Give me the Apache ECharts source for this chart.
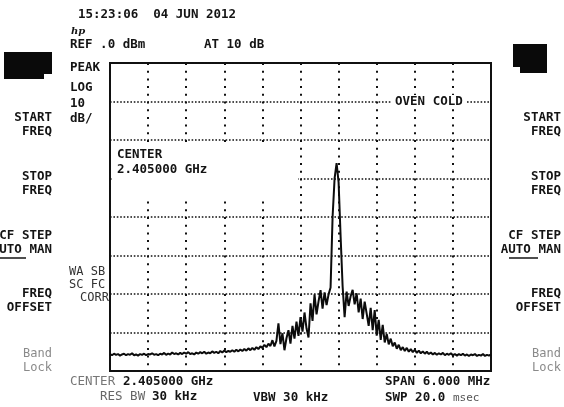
<!DOCTYPE html>
<html>
<head>
<meta charset="utf-8">
<script src="https://cdn.jsdelivr.net/npm/echarts@6/dist/echarts.min.js"></script>
<style>
  html, body { margin: 0; padding: 0; background: #fff; }
  #chart { width: 564px; height: 407px; }
</style>
</head>
<body>
<div id="chart"></div>
<script>
// analyzer settings (from the screen annotations)
const centerMHz = 2405.0;
const spanMHz = 6.0;
const refLevel = 0;      // dBm, top line
const dbPerDiv = 10;
const yDivs = 8;
const xDivs = 10;

// trace, dBm, equally spaced across the span
const traceDbm = [
  -75.6, -75.9, -75.5, -75.8, -75.6, -76.0, -75.7, -75.5, -75.9, -75.6,
  -75.8, -75.4, -75.9, -75.7, -76.0, -75.6, -75.8, -75.5, -75.9, -75.6,
  -75.7, -75.4, -75.8, -75.6, -75.9, -75.5, -75.7, -75.3, -75.8, -75.5,
  -75.7, -75.2, -75.6, -75.4, -75.7, -75.3, -75.6, -75.2, -75.5, -75.1,
  -75.6, -75.4, -75.7, -75.2, -75.5, -75.1, -75.4, -75.0, -75.5, -75.2,
  -75.4, -74.9, -75.3, -75.0, -75.4, -74.8, -75.2, -74.7, -75.1, -74.8,
  -75.0, -74.6, -75.0, -74.5, -74.9, -74.4, -74.8, -74.3, -74.7, -74.1,
  -74.6, -74.0, -74.5, -73.8, -74.3, -73.6, -74.0, -73.2, -73.8, -72.9,
  -73.5, -72.0, -73.6, -72.2, -67.6, -73.0, -70.2, -74.6, -71.5, -69.4,
  -72.9, -68.3, -71.6, -67.2, -70.9, -66.0, -69.8, -64.8, -68.9, -71.3,
  -62.4, -67.0, -60.1, -65.3, -61.9, -59.0, -63.8, -59.6, -62.9, -60.1,
  -58.3, -40.0, -30.0, -26.0, -31.0, -45.0, -58.0, -66.0, -59.4, -63.1,
  -60.6, -58.9, -62.7, -59.8, -64.8, -61.2, -66.5, -62.0, -65.1, -68.3,
  -63.6, -69.4, -64.2, -70.8, -66.7, -71.9, -68.0, -72.6, -70.4, -73.1,
  -71.6, -73.6, -72.6, -74.2, -73.2, -74.6, -73.8, -74.8, -74.0, -75.0,
  -74.3, -75.1, -74.5, -75.3, -74.7, -75.4, -74.9, -75.5, -75.0, -75.6,
  -75.2, -75.7, -75.3, -75.8, -75.4, -75.7, -75.3, -75.9, -75.5, -75.8,
  -75.4, -75.9, -75.6, -76.0, -75.6, -75.9, -75.5, -76.0, -75.7, -76.1,
  -75.7, -75.9, -75.6, -76.1, -75.8, -76.0, -75.6, -76.1, -75.8, -76.0,
  -75.7
];

const leftKeys = [
  ["START", "FREQ"], ["STOP", "FREQ"], ["CF STEP", "AUTO MAN"], ["FREQ", "OFFSET"], ["Band", "Lock"]
];
const keyRows = [118, 177, 236, 294, 354];

// x in MHz offset from center
const half = spanMHz / 2;
const traceData = traceDbm.map((v, i) => [-half + i * spanMHz / (traceDbm.length - 1), v]);

const MONO = '"DejaVu Sans Mono", "Liberation Mono", monospace';
const bold = s => 'bold ' + s + 'px ' + MONO;
const ink = '#141414';

function txt(text, x, y, opts = {}) {
  return {
    type: 'text', x: x, y: y, z: opts.z || 20,
    style: {
      text: text,
      font: opts.font || bold(12.5),
      fill: opts.fill || ink,
      align: opts.align || 'left', textAlign: opts.align || 'left',
      verticalAlign: 'middle', textVerticalAlign: 'middle'
    }
  };
}

const graphics = [];

// soft key labels, both sides
leftKeys.forEach((k, i) => {
  const y = keyRows[i];
  const grey = k[0] === 'Band';
  const f = grey ? 'normal 12px ' + MONO : bold(12.5);
  const c = grey ? '#8a8a8a' : ink;
  graphics.push(txt(k[0], 52, y, {align: 'right', font: f, fill: c}));
  graphics.push(txt(k[1], 52, y + 14, {align: 'right', font: f, fill: c}));
  graphics.push(txt(k[0], 561, y, {align: 'right', font: f, fill: c}));
  graphics.push(txt(k[1], 561, y + 14, {align: 'right', font: f, fill: c}));
});
// AUTO underline
graphics.push({type: 'line', z: 20, shape: {x1: -4, y1: 258, x2: 26, y2: 258}, style: {stroke: ink, lineWidth: 1.5}});
graphics.push({type: 'line', z: 20, shape: {x1: 509, y1: 258, x2: 538, y2: 258}, style: {stroke: ink, lineWidth: 1.5}});

// black key blocks
graphics.push({type: 'polygon', z: 20, shape: {points: [[4, 52], [52, 52], [52, 74], [44, 74], [44, 79], [4, 79]]}, style: {fill: '#0a0a0a'}});
graphics.push({type: 'polygon', z: 20, shape: {points: [[513, 44], [547, 44], [547, 73], [520, 73], [520, 67], [513, 67]]}, style: {fill: '#0a0a0a'}});

// header
graphics.push(txt('15:23:06  04 JUN 2012', 78, 15));
graphics.push(txt('hp', 71, 31, {font: 'italic bold 10px "DejaVu Serif", serif'}));
graphics.push(txt('REF .0 dBm', 70, 45));
graphics.push(txt('AT 10 dB', 204, 45));
graphics.push(txt('PEAK', 70, 68));
graphics.push(txt('LOG', 70, 88));
graphics.push(txt('10', 70, 104));
graphics.push(txt('dB/', 70, 119));
graphics.push(txt('WA SB', 69, 272, {font: 'normal 12px ' + MONO, fill: '#333'}));
graphics.push(txt('SC FC', 69, 285, {font: 'normal 12px ' + MONO, fill: '#333'}));
graphics.push(txt('CORR', 109, 298, {align: 'right', font: 'normal 12px ' + MONO, fill: '#333'}));

// on-screen annotations with white backing
graphics.push({type: 'rect', z: 15, shape: {x: 112, y: 143, width: 186, height: 57}, style: {fill: '#fff'}});
graphics.push(txt('CENTER', 117, 155));
graphics.push(txt('2.405000 GHz', 117, 170));
graphics.push({type: 'rect', z: 15, shape: {x: 392, y: 95, width: 74, height: 14}, style: {fill: '#fff'}});
graphics.push(txt('OVEN COLD', 395, 102));

// footer
graphics.push(txt('CENTER', 70, 382, {font: 'normal 12.5px ' + MONO, fill: '#777'}));
graphics.push(txt('2.405000 GHz', 123, 382));
graphics.push(txt('SPAN 6.000 MHz', 385, 382));
graphics.push(txt('RES BW', 100, 397, {font: 'normal 12.5px ' + MONO, fill: '#666'}));
graphics.push(txt('30 kHz', 152, 397));
graphics.push(txt('VBW 30 kHz', 253, 398));
graphics.push(txt('SWP 20.0', 385, 398));
graphics.push(txt('msec', 453, 398, {font: 'normal 11px ' + MONO, fill: '#555'}));

const chart = echarts.init(document.getElementById('chart'));
chart.setOption({
  animation: false,
  backgroundColor: '#fff',
  grid: {
    left: 110, right: 73, top: 63, bottom: 36,
    show: true, borderColor: '#111', borderWidth: 2, backgroundColor: 'transparent'
  },
  xAxis: {
    type: 'value',
    min: -half, max: half, interval: spanMHz / xDivs,
    axisLine: {show: false}, axisTick: {show: false}, axisLabel: {show: false},
    splitLine: {show: true, lineStyle: {color: '#111', width: 2, type: [2, 5.7]}}
  },
  yAxis: {
    type: 'value',
    min: refLevel - dbPerDiv * yDivs, max: refLevel, interval: dbPerDiv,
    axisLine: {show: false}, axisTick: {show: false}, axisLabel: {show: false},
    splitLine: {show: true, lineStyle: {color: '#111', width: 1.5, type: [1.6, 1.8]}}
  },
  series: [{
    type: 'line',
    data: traceData,
    showSymbol: false,
    z: 5,
    lineStyle: {color: '#0c0c0c', width: 2},
    emphasis: {disabled: true}
  }],
  graphic: graphics
});
</script>
</body>
</html>
